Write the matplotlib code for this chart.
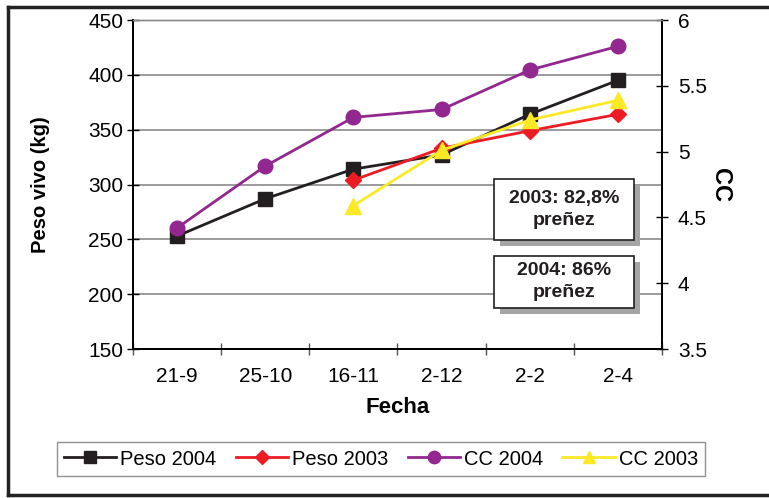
import matplotlib
matplotlib.use("Agg")
import matplotlib.pyplot as plt
from matplotlib.patches import Rectangle
from matplotlib.lines import Line2D
from matplotlib.ticker import FixedLocator, FuncFormatter

plt.rcParams['font.family'] = ['Liberation Sans', 'DejaVu Sans']

fechas = ['21-9', '25-10', '16-11', '2-12', '2-2', '2-4']

# peso vivo (kg), eje izquierdo
peso_2004 = [253, 287, 314, 327, 364, 395]
peso_2003 = [None, None, 304, 333, 349, 364]

# condicion corporal, eje derecho
cc_2004 = [4.42, 4.89, 5.26, 5.32, 5.62, 5.80]
cc_2003 = [None, None, 4.59, 5.01, 5.24, 5.39]

preñez = ['2003: 82,8%\npreñez', '2004: 86%\npreñez']

NEGRO = '#231f20'
ROJO = '#ed1c24'
VIOLETA = '#92278f'
AMARILLO = '#fbe926'


def serie(vals):
    xs = [i for i, v in enumerate(vals) if v is not None]
    ys = [v for v in vals if v is not None]
    return xs, ys


fig = plt.figure(figsize=(7.69, 4.98), dpi=100)
ax = fig.add_axes([133 / 769, 1 - 349 / 498, 529 / 769, 329 / 498])
ax2 = ax.twinx()

ax.set_xlim(-0.5, 5.5)
ax.set_ylim(150, 450)
ax.set_yticks(range(150, 451, 50))
ax.yaxis.grid(True, color='#8a8a8a', linewidth=1.2)
ax.set_axisbelow(True)

ax.set_xticks(range(len(fechas)))
ax.set_xticklabels(fechas)
ax.xaxis.set_minor_locator(FixedLocator([i + 0.5 for i in range(-1, len(fechas))]))
ax.tick_params(axis='x', which='major', length=0, pad=13, labelsize=15)
ax.tick_params(axis='x', which='minor', direction='inout', length=9, width=1, color='#555555')
ax.tick_params(axis='y', direction='inout', length=8, width=1, pad=3, labelsize=15)

ax2.set_ylim(3.5, 6)
ax2.set_yticks([3.5, 4, 4.5, 5, 5.5, 6])
ax2.yaxis.set_major_formatter(FuncFormatter(lambda v, p: f'{v:g}'))
ax2.tick_params(axis='y', direction='inout', length=9, width=1, pad=7, labelsize=15)

for a in (ax, ax2):
    for s in ('left', 'bottom', 'right'):
        a.spines[s].set_color('black')
        a.spines[s].set_linewidth(1.3)
    a.spines['top'].set_color('#8a8a8a')
    a.spines['top'].set_linewidth(1.0)

x, y = serie(peso_2004)
h1, = ax.plot(x, y, color=NEGRO, lw=2, marker='s', ms=10, label='Peso 2004', zorder=3)
x, y = serie(peso_2003)
h2, = ax.plot(x, y, color=ROJO, lw=2, marker='D', ms=8.5, label='Peso 2003', zorder=4)
x, y = serie(cc_2004)
h3, = ax2.plot(x, y, color=VIOLETA, lw=2, marker='o', ms=10.5, label='CC 2004', zorder=3)
x, y = serie(cc_2003)
h4, = ax2.plot(x, y, color=AMARILLO, lw=2, marker='^', ms=11, label='CC 2003', zorder=4)

ax.set_ylabel('Peso vivo (kg)', fontsize=14.5, fontweight='bold', va='center')
ax.yaxis.set_label_coords(-0.174, 0.5)
ax2.set_ylabel('CC', fontsize=17, fontweight='bold', rotation=270, va='center')
ax2.yaxis.set_label_coords(1.11, 0.5)
ax.set_xlabel('Fecha', fontsize=16, fontweight='bold')
ax.xaxis.set_label_coords(0.5, -0.145)

# cuadros de preñez con sombra
cajas = [(0.682, 0.331, 0.265, 0.186), (0.682, 0.125, 0.265, 0.158)]
for (bx, by, bw, bh), txt in zip(cajas, preñez):
    ax2.add_patch(Rectangle((bx + 0.012, by - 0.019), bw, bh, transform=ax.transAxes,
                            facecolor='#a5a5a5', edgecolor='none', hatch='....',
                            zorder=5, clip_on=False))
    ax2.add_patch(Rectangle((bx, by), bw, bh, transform=ax.transAxes,
                            facecolor='white', edgecolor=NEGRO, linewidth=1.2,
                            zorder=6, clip_on=False))
    ax2.text(bx + bw / 2, by + bh / 2, txt, transform=ax.transAxes, ha='center',
             va='center', fontsize=14, fontweight='bold', color=NEGRO,
             linespacing=1.4, zorder=7)

leg = fig.legend(handles=[h1, h2, h3, h4], loc='center', ncol=4,
                 bbox_to_anchor=(381 / 769, 1 - 459 / 498), fontsize=14.5,
                 frameon=True, fancybox=False, edgecolor='#777777',
                 handlelength=2.6, handletextpad=0.2, columnspacing=0.95,
                 borderpad=0.35, markerscale=0.85)
leg.get_frame().set_linewidth(1.0)

# marco exterior
kw = dict(color='#222222', linewidth=2.5, transform=fig.transFigure)
fig.add_artist(Line2D([8 / 769, 8 / 769], [1 - 7 / 498, 1 - 495 / 498], **kw))
fig.add_artist(Line2D([8 / 769, 1.0], [1 - 7 / 498, 1 - 7 / 498], **kw))
fig.add_artist(Line2D([8 / 769, 1.0], [1 - 495 / 498, 1 - 495 / 498], **kw))

fig.savefig('out.png', dpi=100)
